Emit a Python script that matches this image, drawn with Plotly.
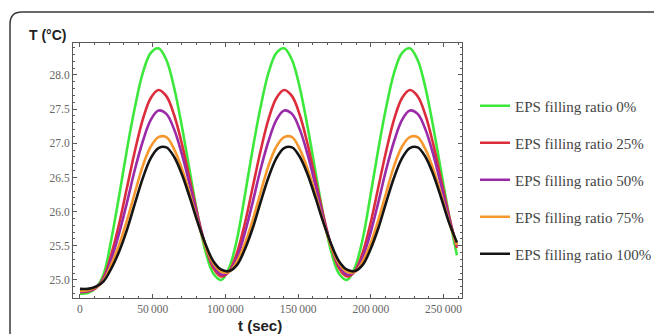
import plotly.graph_objects as go

# ---- data ----
t_sec = [0, 5400, 10800, 16200, 21600, 27000, 32400, 37800, 43200, 48600,
         54000, 59400, 64800, 70200, 75600, 81000, 86400, 91800, 97200, 102600,
         108000, 113400, 118800, 124200, 129600, 135000, 140400, 145800, 151200, 156600,
         162000, 167400, 172800, 178200, 183600, 189000, 194400, 199800, 205200, 210600,
         216000, 221400, 226800, 232200, 237600, 243000, 248400, 253800, 259200]

T_eps0 = [24.80, 24.81, 24.88, 25.08,
          25.60, 26.24, 26.92, 27.53, 28.03, 28.32, 28.39, 28.22, 27.81, 27.23, 26.58, 25.94, 25.41, 25.09,
          25.00, 25.18, 25.60, 26.24, 26.92, 27.53, 28.03, 28.32, 28.39, 28.22, 27.81, 27.23, 26.58, 25.94, 25.41, 25.09,
          25.00, 25.18, 25.60, 26.24, 26.92, 27.53, 28.03, 28.32, 28.39, 28.22, 27.81, 27.23, 26.58, 25.94, 25.36]
T_eps25 = [24.82, 24.83, 24.88, 25.03,
           25.38, 25.83, 26.36, 26.89, 27.35, 27.66, 27.78, 27.69, 27.41, 26.98, 26.46, 25.94, 25.49, 25.17,
           25.05, 25.13, 25.40, 25.83, 26.36, 26.89, 27.35, 27.66, 27.78, 27.69, 27.41, 26.98, 26.46, 25.94, 25.49, 25.17,
           25.05, 25.13, 25.40, 25.83, 26.36, 26.89, 27.35, 27.66, 27.78, 27.69, 27.41, 26.98, 26.46, 25.94, 25.47]
T_eps50 = [24.83, 24.84, 24.89, 25.01,
           25.31, 25.69, 26.14, 26.62, 27.03, 27.34, 27.48, 27.43, 27.20, 26.83, 26.38, 25.90, 25.50, 25.21,
           25.08, 25.12, 25.33, 25.69, 26.14, 26.62, 27.03, 27.34, 27.48, 27.43, 27.20, 26.83, 26.38, 25.90, 25.50, 25.21,
           25.08, 25.12, 25.33, 25.69, 26.14, 26.62, 27.03, 27.34, 27.48, 27.43, 27.20, 26.83, 26.38, 25.90, 25.50]
T_eps75 = [24.84, 24.85, 24.89, 24.99,
           25.23, 25.52, 25.88, 26.28, 26.67, 26.95, 27.09, 27.09, 26.91, 26.62, 26.25, 25.85, 25.49, 25.24,
           25.12, 25.12, 25.27, 25.53, 25.88, 26.28, 26.67, 26.95, 27.09, 27.09, 26.91, 26.62, 26.25, 25.85, 25.49, 25.24,
           25.12, 25.12, 25.27, 25.53, 25.88, 26.28, 26.67, 26.95, 27.09, 27.09, 26.91, 26.62, 26.25, 25.85, 25.51]
T_eps100 = [24.87, 24.87, 24.90, 24.98,
            25.17, 25.42, 25.74, 26.12, 26.49, 26.78, 26.93, 26.94, 26.80, 26.54, 26.20, 25.84, 25.52, 25.27,
            25.15, 25.13, 25.22, 25.45, 25.76, 26.14, 26.50, 26.78, 26.93, 26.94, 26.80, 26.54, 26.20, 25.84, 25.52, 25.27,
            25.15, 25.13, 25.22, 25.45, 25.76, 26.14, 26.50, 26.78, 26.93, 26.94, 26.80, 26.54, 26.20, 25.84, 25.55]

series_names = ["EPS filling ratio 0%", "EPS filling ratio 25%",
                "EPS filling ratio 50%", "EPS filling ratio 75%",
                "EPS filling ratio 100%"]
series_values = [T_eps0, T_eps25, T_eps50, T_eps75, T_eps100]
series_colors = ["#3de83d", "#dc2d3c", "#9a2aa8", "#f7982e", "#151515"]

x_tick_vals = [0, 50000, 100000, 150000, 200000, 250000]
x_tick_text = ["0", "50\u2009000", "100\u2009000", "150\u2009000", "200\u2009000", "250\u2009000"]
y_tick_vals = [25.0, 25.5, 26.0, 26.5, 27.0, 27.5, 28.0]
y_tick_text = ["25.0", "25.5", "26.0", "26.5", "27.0", "27.5", "28.0"]

y_title = "T (°C)"
x_title = "t (sec)"

# ---- geometry (pixels of the 654x334 picture) ----
W, H = 654, 334
ML, MT = 73, 43
MR = W - 462
MB = H - 298
PW, PH = W - ML - MR, H - MT - MB


def px(x):
    return (x - ML) / PW


def py(y):
    return (H - MB - y) / PH


fig = go.Figure()
for name, vals, col in zip(series_names, series_values, series_colors):
    fig.add_trace(go.Scatter(
        x=t_sec, y=vals, mode="lines", name=name, legendgroup=name,
        line=dict(color=col, width=2.6, shape="spline", smoothing=1.0),
    ))

axis_common = dict(
    showline=True, linecolor="#5a5a5a", linewidth=1, mirror="allticks",
    ticks="inside", ticklen=4, tickcolor="#5a5a5a", tickwidth=1,
    showgrid=False, zeroline=False,
    tickfont=dict(family="Liberation Serif", size=11.5, color="#666666"),
)

fig.update_xaxes(range=[-4800, 262700], tickvals=x_tick_vals, ticktext=x_tick_text,
                 minor=dict(ticks="inside", ticklen=2, dtick=10000, tick0=0,
                            tickcolor="#5a5a5a"),
                 **axis_common)
fig.update_yaxes(range=[24.736, 28.468], tickvals=y_tick_vals, ticktext=y_tick_text,
                 minor=dict(ticks="inside", ticklen=2, dtick=0.1, tick0=25.0,
                            tickcolor="#5a5a5a"),
                 **axis_common)

# rounded frame around the figure
x0, ytop, r = 10, 12, 12
path = (f"M {px(x0)},{py(350)} L {px(x0)},{py(ytop + r)} "
        f"Q {px(x0)},{py(ytop)} {px(x0 + r)},{py(ytop)} L {px(680)},{py(ytop)}")
fig.add_shape(type="path", path=path, xref="paper", yref="paper",
              line=dict(color="#3a3a3a", width=1.5), layer="above")

fig.add_annotation(text=f"<b>{y_title}</b>", x=px(27), y=py(35), xref="paper", yref="paper",
                   xanchor="left", yanchor="middle", showarrow=False,
                   font=dict(family="Liberation Sans", size=14, color="#222222"))
fig.add_annotation(text=f"<b>{x_title}</b>", x=px(260), y=py(325), xref="paper", yref="paper",
                   xanchor="center", yanchor="middle", showarrow=False,
                   font=dict(family="Liberation Sans", size=15, color="#222222"))

fig.update_layout(
    width=W, height=H, autosize=False,
    margin=dict(l=ML, r=MR, t=MT, b=MB, autoexpand=False),
    paper_bgcolor="white", plot_bgcolor="white",
    showlegend=True,
    legend=dict(xref="container", yref="container",
                x=475 / W, y=1 - 89.5 / H, xanchor="left", yanchor="top",
                tracegroupgap=14.5, bgcolor="rgba(0,0,0,0)",
                font=dict(family="Liberation Serif", size=15, color="#444444"),
                itemwidth=30, maxheight=320),
)

post = ("document.body.style.margin='0';document.body.style.overflow='hidden';"
        "var gd=document.getElementById('{plot_id}');"
        "Plotly.relayout(gd,{width:%d,height:%d});" % (W, H))

fig.write_html("out.html", post_script=post,
               config={"displayModeBar": False, "responsive": False})
